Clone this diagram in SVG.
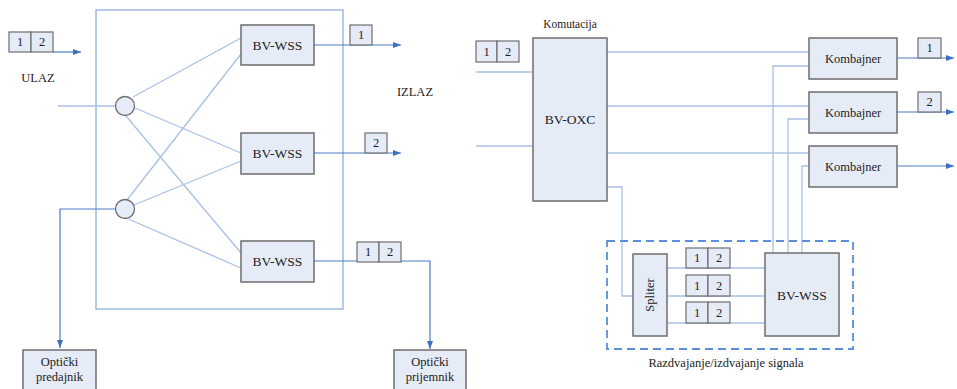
<svg xmlns="http://www.w3.org/2000/svg" width="957" height="389" viewBox="0 0 957 389" font-family="Liberation Serif, DejaVu Serif, serif">
<defs>
<marker id="arr" viewBox="0 0 8 6" refX="8" refY="3" markerWidth="8" markerHeight="6" markerUnits="userSpaceOnUse" orient="auto">
<path d="M0,0 L8,3 L0,6 z" fill="#3f6fc0"/>
</marker>
<style>
.box{fill:#e6ecf7;stroke:#6e6e6e;stroke-width:1.5}
.sm{fill:#e6ecf7;stroke:#6e6e6e;stroke-width:1.2}
.ln{fill:none;stroke:#a9c0e6;stroke-width:1.3}
.fr{fill:none;stroke:#9fb9e3;stroke-width:1.5}
.ar{fill:none;stroke:#4a7cc8;stroke-width:1.2}
.circ{fill:#e6ecf7;stroke:#6e6e6e;stroke-width:1.3}
.dash{fill:none;stroke:#5b8fd8;stroke-width:1.8;stroke-dasharray:8,5}
text{font-family:'Liberation Serif','DejaVu Serif',serif;fill:#222;text-anchor:middle;dominant-baseline:central}
.t13{font-size:13.5px}
.t12{font-size:12.5px}
.t11{font-size:11.5px}
</style>
</defs>

<!-- left frame -->
<rect class="fr" x="96" y="10" width="247" height="299"/>

<g id="connectors">
<line class="ln" x1="58" y1="106" x2="115" y2="106"/>
<line class="ln" x1="133" y1="97" x2="241" y2="38"/>
<line class="ln" x1="135" y1="108" x2="241" y2="153"/>
<line class="ln" x1="126" y1="116" x2="241" y2="253"/>
<line class="ln" x1="127" y1="200" x2="241" y2="54"/>
<line class="ln" x1="134" y1="205" x2="241" y2="161"/>
<line class="ln" x1="126" y1="218" x2="241" y2="268"/>
<polyline class="ar" points="115,209 60,209 60,348" marker-end="url(#arr)"/>
<line class="ar" x1="53" y1="52" x2="81" y2="52" marker-end="url(#arr)"/>
<line class="ar" x1="314" y1="45" x2="401" y2="45" marker-end="url(#arr)"/>
<line class="ar" x1="314" y1="153" x2="401" y2="153" marker-end="url(#arr)"/>
<polyline class="ar" points="314,261 430,261 430,349" marker-end="url(#arr)"/>

<line class="ln" x1="476" y1="72" x2="533" y2="72"/>
<line class="ln" x1="476" y1="146" x2="533" y2="146"/>
<line class="ln" x1="607" y1="52" x2="809" y2="52"/>
<line class="ln" x1="607" y1="106" x2="809" y2="106"/>
<line class="ln" x1="607" y1="153" x2="809" y2="153"/>
<polyline class="ln" points="607,187 622,187 622,296 633,296"/>
<polyline class="ln" points="773,253 773,66 809,66"/>
<polyline class="ln" points="788,253 788,119 809,119"/>
<polyline class="ln" points="802,253 802,166 809,166"/>
<line class="ln" x1="667" y1="268" x2="765" y2="268"/>
<line class="ln" x1="667" y1="296" x2="765" y2="296"/>
<line class="ln" x1="667" y1="323" x2="765" y2="323"/>
<line class="ar" x1="897" y1="58" x2="954" y2="58" marker-end="url(#arr)"/>
<line class="ar" x1="897" y1="112" x2="954" y2="112" marker-end="url(#arr)"/>
<line class="ar" x1="897" y1="166" x2="954" y2="166" marker-end="url(#arr)"/>
</g>

<g id="in-label">
<rect class="sm" x="9" y="32" width="22" height="20"/>
<rect class="sm" x="31" y="32" width="22" height="20"/>
<text class="t12" x="20" y="42">1</text>
<text class="t12" x="42" y="42">2</text>
</g>
<text class="t12" x="38" y="78">ULAZ</text>
<text class="t12" x="415" y="92">IZLAZ</text>

<g id="split1"><circle class="circ" cx="125" cy="106" r="9.5"/></g>
<g id="split2"><circle class="circ" cx="125" cy="209" r="9.5"/></g>

<g id="wss1"><rect class="box" x="241" y="25" width="73" height="40"/><text class="t13" x="277.5" y="45">BV-WSS</text></g>
<g id="wss2"><rect class="box" x="241" y="133" width="73" height="41"/><text class="t13" x="277.5" y="153.5">BV-WSS</text></g>
<g id="wss3"><rect class="box" x="241" y="241" width="73" height="41"/><text class="t13" x="277.5" y="261.5">BV-WSS</text></g>

<g id="out1"><rect class="sm" x="350" y="25" width="22" height="20"/><text class="t12" x="361" y="35">1</text></g>
<g id="out2"><rect class="sm" x="365" y="133" width="22" height="20"/><text class="t12" x="376" y="143">2</text></g>
<g id="out3">
<rect class="sm" x="357" y="242" width="22" height="20"/>
<rect class="sm" x="379" y="242" width="22" height="20"/>
<text class="t12" x="368" y="252">1</text>
<text class="t12" x="390" y="252">2</text>
</g>

<g id="tx"><rect class="box" x="23" y="350" width="73" height="45"/><text class="t12" x="59.5" y="362">Optički</text><text class="t12" x="59.5" y="377">predajnik</text></g>
<g id="rx"><rect class="box" x="394" y="350" width="72" height="45"/><text class="t12" x="430" y="362">Optički</text><text class="t12" x="430" y="377">prijemnik</text></g>

<text class="t11" x="570" y="24">Komutacija</text>
<g id="in-label-r">
<rect class="sm" x="476" y="41" width="21" height="21"/>
<rect class="sm" x="497" y="41" width="22" height="21"/>
<text class="t12" x="486.5" y="51.5">1</text>
<text class="t12" x="508" y="51.5">2</text>
</g>
<g id="oxc"><rect class="box" x="533" y="38" width="74" height="163"/><text class="t13" x="570" y="119">BV-OXC</text></g>

<g id="komb1"><rect class="box" x="809" y="38" width="88" height="41"/><text class="t12" x="853" y="58.5">Kombajner</text></g>
<g id="komb2"><rect class="box" x="809" y="92" width="88" height="41"/><text class="t12" x="853" y="112.5">Kombajner</text></g>
<g id="komb3"><rect class="box" x="809" y="146" width="88" height="41"/><text class="t12" x="853" y="166.5">Kombajner</text></g>

<g id="outr1"><rect class="sm" x="918" y="38" width="23" height="20"/><text class="t12" x="929.5" y="48">1</text></g>
<g id="outr2"><rect class="sm" x="918" y="92" width="23" height="20"/><text class="t12" x="929.5" y="102">2</text></g>

<g id="drop">
<rect class="dash" x="607" y="241" width="246" height="108"/>
<text class="t12" x="726" y="363">Razdvajanje/izdvajanje signala</text>
</g>

<g id="spliter"><rect class="box" x="633" y="254" width="34" height="82"/><text class="t12" transform="translate(650,295) rotate(-90)" x="0" y="0">Spliter</text></g>
<g id="wss-r"><rect class="box" x="765" y="253" width="74" height="83"/><text class="t13" x="802" y="295">BV-WSS</text></g>

<g id="ch1">
<rect class="sm" x="686" y="248" width="22" height="20"/><rect class="sm" x="708" y="248" width="22" height="20"/>
<text class="t12" x="697" y="258">1</text><text class="t12" x="719" y="258">2</text>
</g>
<g id="ch2">
<rect class="sm" x="686" y="275" width="22" height="21"/><rect class="sm" x="708" y="275" width="22" height="21"/>
<text class="t12" x="697" y="285.5">1</text><text class="t12" x="719" y="285.5">2</text>
</g>
<g id="ch3">
<rect class="sm" x="686" y="302" width="22" height="21"/><rect class="sm" x="708" y="302" width="22" height="21"/>
<text class="t12" x="697" y="312.5">1</text><text class="t12" x="719" y="312.5">2</text>
</g>
</svg>
